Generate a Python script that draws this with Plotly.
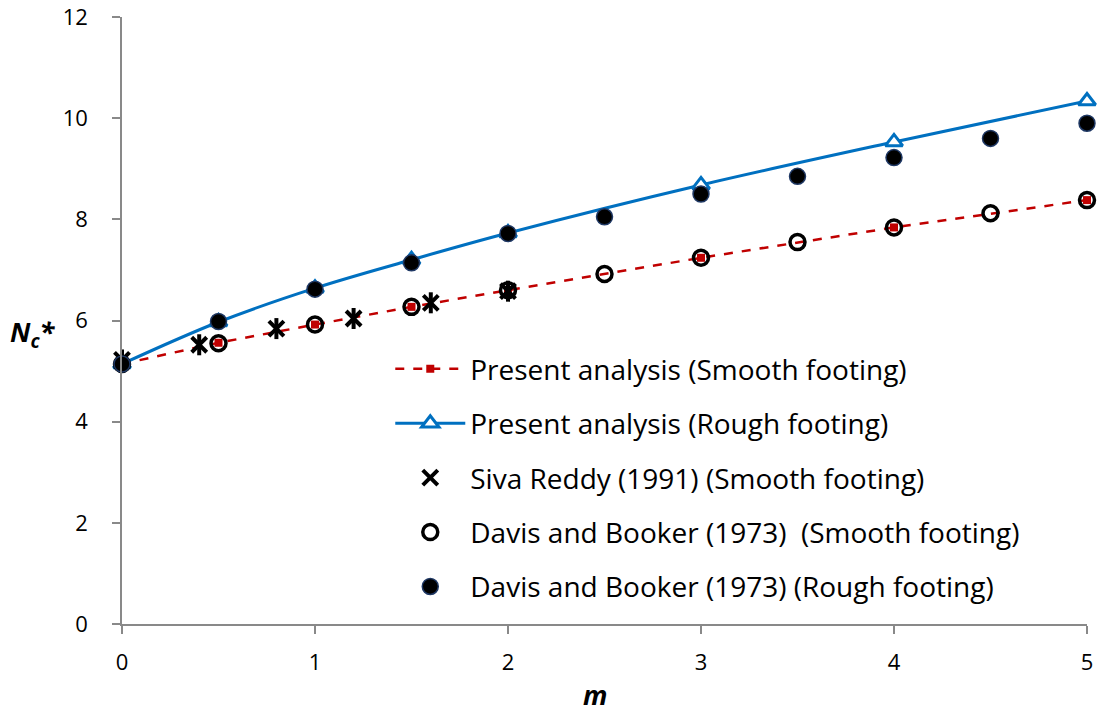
import plotly.graph_objects as go

# ---- data ----
m_analysis = [0, 0.5, 1, 1.5, 2, 3, 4, 5]
nc_smooth_present = [5.14, 5.56, 5.92, 6.27, 6.60, 7.24, 7.84, 8.38]
nc_rough_present = [5.14, 5.97, 6.64, 7.20, 7.73, 8.68, 9.53, 10.34]

m_siva = [0, 0.4, 0.8, 1.2, 1.6, 2.0]
nc_siva = [5.22, 5.52, 5.84, 6.04, 6.35, 6.58]

m_davis = [0, 0.5, 1, 1.5, 2, 2.5, 3, 3.5, 4, 4.5, 5]
nc_davis_smooth = [5.14, 5.55, 5.92, 6.27, 6.60, 6.92, 7.24, 7.55, 7.84, 8.12, 8.38]
nc_davis_rough = [5.14, 5.98, 6.62, 7.14, 7.72, 8.05, 8.50, 8.85, 9.22, 9.60, 9.90]

x_ticks = [0, 1, 2, 3, 4, 5]
y_ticks = [0, 2, 4, 6, 8, 10, 12]

names = [
    "Present analysis (Smooth footing)",
    "Present analysis (Rough footing)",
    "Siva Reddy (1991) (Smooth footing)",
    "Davis and Booker (1973)  (Smooth footing)",
    "Davis and Booker (1973) (Rough footing)",
]

FONT = "Open Sans"
fig = go.Figure()

fig.add_trace(go.Scatter(
    x=m_analysis, y=nc_smooth_present, name=names[0], mode="lines+markers",
    line=dict(color="#C00000", width=2.5, dash="dash"),
    marker=dict(symbol="square", size=8, color="#C00000"),
    legendgroup="g1", cliponaxis=False))
fig.add_trace(go.Scatter(
    x=m_analysis, y=nc_rough_present, name=names[1], mode="lines+markers",
    line=dict(color="#0070C0", width=3, shape="spline"),
    marker=dict(symbol="triangle-up", size=15, color="white",
                line=dict(color="#0070C0", width=3)),
    legendgroup="g2", cliponaxis=False))
fig.add_trace(go.Scatter(
    x=m_siva, y=nc_siva, name=names[2], mode="markers",
    marker=dict(symbol="x-thin-open", size=15, color="black",
                line=dict(color="black", width=4)),
    legendgroup="g3", cliponaxis=False))
fig.add_trace(go.Scatter(
    x=m_siva, y=nc_siva, name=names[2], mode="markers", showlegend=False,
    marker=dict(symbol="line-ns-open", size=15, color="black",
                line=dict(color="black", width=4)),
    legendgroup="g3", cliponaxis=False))
fig.add_trace(go.Scatter(
    x=m_davis, y=nc_davis_smooth, name=names[3], mode="markers",
    marker=dict(symbol="circle-open", size=15, color="black",
                line=dict(color="black", width=3.5)),
    legendgroup="g4", cliponaxis=False))
fig.add_trace(go.Scatter(
    x=m_davis, y=nc_davis_rough, name=names[4], mode="markers",
    marker=dict(symbol="circle", size=16, color="black",
                line=dict(color="#1F3864", width=1.5)),
    legendgroup="g5", cliponaxis=False))

axis_common = dict(
    showgrid=False, zeroline=False, showline=True, linecolor="#898989", linewidth=1.5,
    ticks="outside", ticklen=8, tickcolor="#898989", tickwidth=1.5,
    tickfont=dict(family=FONT, size=22, color="black"), automargin=False,
    ticklabeloverflow="allow",
)
fig.update_xaxes(range=[0, 5], tickvals=x_ticks, ticklabelstandoff=10, **axis_common)
fig.update_yaxes(range=[0, 12], tickvals=y_ticks, ticklabelstandoff=20, **axis_common)

fig.add_annotation(text="<b><i>N<sub>c</sub>*</i></b>", xref="paper", yref="paper",
                   x=-0.092, y=0.478, xanchor="center", yanchor="middle", showarrow=False,
                   font=dict(family=FONT, size=27, color="black"))
fig.add_annotation(text="<b><i>m</i></b>", xref="paper", yref="paper",
                   x=0.490, y=-0.116, xanchor="center", yanchor="middle", showarrow=False,
                   font=dict(family=FONT, size=27, color="black"))

fig.update_layout(
    width=1100, height=713,
    margin=dict(l=122, r=13, t=17, b=89),
    paper_bgcolor="white", plot_bgcolor="white",
    showlegend=True,
    legend=dict(x=0.278, y=0.461, xanchor="left", yanchor="top",
                font=dict(family=FONT, size=28, color="black"),
                traceorder="grouped", tracegroupgap=15, itemwidth=70,
                bgcolor="rgba(0,0,0,0)"),
)

fig.write_html("out.html", config={"displayModeBar": False},
               post_script="document.body.style.margin='0';")
